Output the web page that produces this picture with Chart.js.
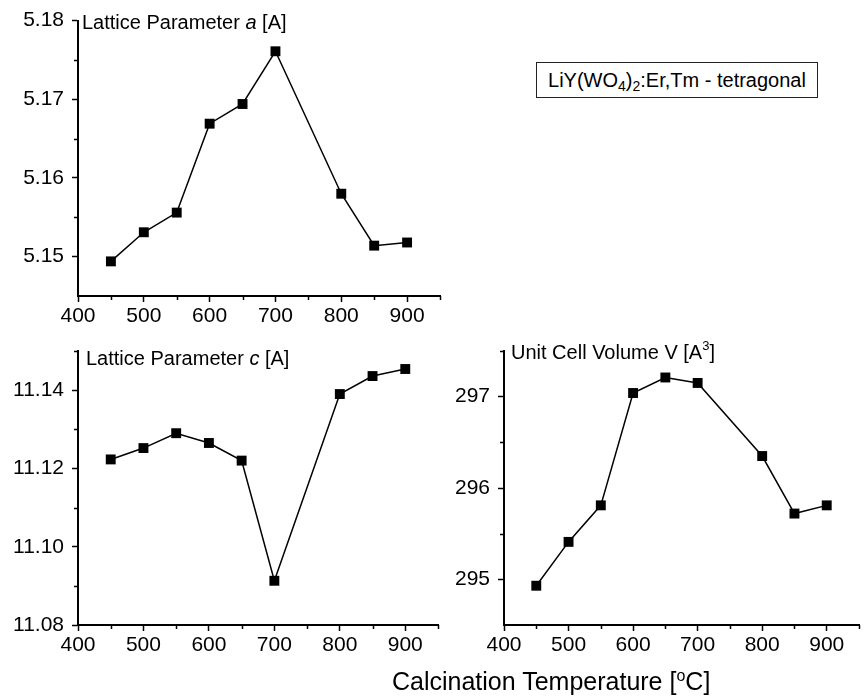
<!DOCTYPE html>
<html>
<head>
<meta charset="utf-8">
<script src="https://cdn.jsdelivr.net/npm/chart.js@4.4.1/dist/chart.umd.min.js"></script>
<style>
  body { margin: 0; background: #fff; }
  #wrap { position: relative; width: 866px; height: 698px; font-family: "Liberation Sans", Arial, sans-serif; }
  .panel { position: absolute; }
  #legendBox {
    position: absolute; left: 536px; top: 62px; width: 280px; height: 34px;
    border: 1px solid #222; font-size: 20px; line-height: 34px; text-align: center; color: #000;
  }
  #legendBox sub { font-size: 14px; vertical-align: -4px; line-height: 0; }
  #xTitle {
    position: absolute; left: 392px; top: 667px; font-size: 25px; color: #000; white-space: nowrap; line-height: 28px;
  }
  #xTitle sup { font-size: 16px; vertical-align: 9px; line-height: 0; }
</style>
</head>
<body>
<div id="wrap">
  <div class="panel" style="left:0;top:0"><canvas id="chartA" width="460" height="330"></canvas></div>
  <div class="panel" style="left:0;top:330px"><canvas id="chartC" width="460" height="368"></canvas></div>
  <div class="panel" style="left:430px;top:330px"><canvas id="chartV" width="436" height="368"></canvas></div>
  <div id="legendBox">LiY(WO<sub>4</sub>)<sub>2</sub>:Er,Tm - tetragonal</div>
  <div id="xTitle">Calcination Temperature [<sup>o</sup>C]</div>
</div>
<script>
// calcination temperatures (°C)
const temps = [450, 500, 550, 600, 650, 700, 800, 850, 900];
const latticeA = [5.1494, 5.1531, 5.1556, 5.1669, 5.1694, 5.1761, 5.1580, 5.1514, 5.1518];
const latticeC = [11.1223, 11.1252, 11.1290, 11.1265, 11.1220, 11.0913, 11.1390, 11.1436, 11.1454];
const cellVolume = [294.93, 295.41, 295.81, 297.04, 297.21, 297.15, 296.35, 295.72, 295.81];

const xTicks = [400, 500, 600, 700, 800, 900];
const xMinor = [450, 550, 650, 750, 850, 950];
const aTicks = [5.15, 5.16, 5.17, 5.18];
const aMinor = [5.155, 5.165, 5.175];
const cTicks = [11.08, 11.10, 11.12, 11.14];
const cMinor = [11.09, 11.11, 11.13, 11.15];
const vTicks = [295, 296, 297];
const vMinor = [295.5, 296.5, 297.5];

const family = '"Liberation Sans", Arial, sans-serif';

const extras = {
  id: 'extras',
  afterDraw(chart, args, opts) {
    const ctx = chart.ctx;
    const xs = chart.scales.x, ys = chart.scales.y;
    const area = chart.chartArea;
    ctx.save();
    ctx.strokeStyle = '#000';
    ctx.lineWidth = 1.5;
    ctx.beginPath();
    xMinor.forEach(v => {
      const px = Math.round(xs.getPixelForValue(v)) + 0.5;
      ctx.moveTo(px, area.bottom);
      ctx.lineTo(px, area.bottom + 4);
    });
    opts.yMinor.forEach(v => {
      const py = Math.round(ys.getPixelForValue(v)) + 0.5;
      ctx.moveTo(area.left, py);
      ctx.lineTo(area.left - 4, py);
    });
    ctx.stroke();

    // panel label
    let x = area.left + opts.dx;
    const y = area.top + opts.dy;
    ctx.fillStyle = '#000';
    ctx.textBaseline = 'middle';
    ctx.textAlign = 'left';
    opts.label.forEach(part => {
      const size = part.sup ? 13 : 20;
      ctx.font = (part.italic ? 'italic ' : '') + size + 'px ' + family;
      ctx.fillText(part.t, x, part.sup ? y - 7 : y);
      x += ctx.measureText(part.t).width;
    });
    ctx.restore();
  }
};

function makeChart(id, values, yMin, yMax, yTicks, yMinor, digits, pad, yWidth, xHeight, label, dx, dy) {
  const ctx = document.getElementById(id).getContext('2d');
  return new Chart(ctx, {
    type: 'line',
    data: {
      datasets: [{
        data: temps.map((t, i) => ({ x: t, y: values[i] })),
        borderColor: '#000',
        borderWidth: 1.5,
        backgroundColor: '#000',
        pointStyle: 'rect',
        pointRadius: 7,
        pointBorderWidth: 0,
        pointBackgroundColor: '#000',
        tension: 0,
        clip: false
      }]
    },
    options: {
      responsive: false,
      animation: false,
      layout: { padding: pad },
      plugins: {
        legend: { display: false },
        tooltip: { enabled: false },
        extras: { yMinor: yMinor, label: label, dx: dx, dy: dy }
      },
      scales: {
        x: {
          type: 'linear', min: 400, max: 950,
          afterBuildTicks: s => { s.ticks = xTicks.map(v => ({ value: v })); },
          afterFit: s => { s.height = xHeight; },
          grid: { drawOnChartArea: false, tickLength: 6, tickWidth: 1.5, tickColor: '#000' },
          border: { color: '#000', width: 2 },
          ticks: { color: '#000', font: { size: 21, family: family }, padding: 2, maxRotation: 0, autoSkip: false }
        },
        y: {
          min: yMin, max: yMax,
          afterBuildTicks: s => { s.ticks = yTicks.map(v => ({ value: v })); },
          afterFit: s => { s.width = yWidth; },
          grid: { drawOnChartArea: false, tickLength: 6, tickWidth: 1.5, tickColor: '#000' },
          border: { color: '#000', width: 2 },
          ticks: { color: '#000', font: { size: 21, family: family }, padding: 8,
                   callback: v => v.toFixed(digits) }
        }
      }
    },
    plugins: [extras]
  });
}

makeChart('chartA', latticeA, 5.145, 5.18, aTicks, aMinor, 2,
  { left: 0, right: 20, top: 20, bottom: 0 }, 78, 34,
  [{ t: 'Lattice Parameter ' }, { t: 'a', italic: true }, { t: ' [A]' }], 4, 3);

makeChart('chartC', latticeC, 11.08, 11.15, cTicks, cMinor, 2,
  { left: 0, right: 22, top: 21, bottom: 0 }, 78, 73,
  [{ t: 'Lattice Parameter ' }, { t: 'c', italic: true }, { t: ' [A]' }], 8, 8);

makeChart('chartV', cellVolume, 294.5, 297.5, vTicks, vMinor, 0,
  { left: 0, right: 1, top: 21, bottom: 0 }, 74, 73,
  [{ t: 'Unit Cell Volume V [A' }, { t: '3', sup: true }, { t: ']' }], 7, 2);
</script>
</body>
</html>
